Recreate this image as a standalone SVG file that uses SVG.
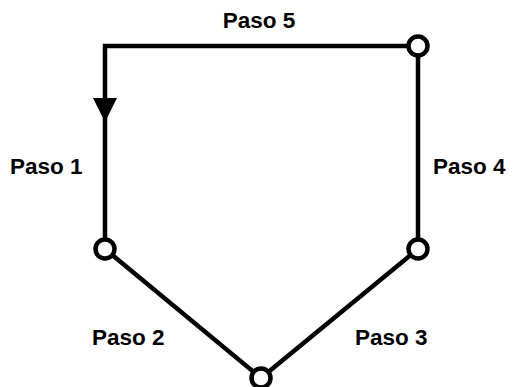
<svg xmlns="http://www.w3.org/2000/svg" width="515" height="387" viewBox="0 0 515 387">
<style>
.edge{fill:none;stroke:#000;stroke-width:4.5;stroke-linejoin:miter;stroke-linecap:butt}
.node{fill:#fff;stroke:#000;stroke-width:4.5}
.lbl{font-family:"Liberation Sans",Arial,sans-serif;font-weight:bold;font-size:22.5px;fill:#000}
</style>
<rect width="515" height="387" fill="#fff"/>
<g id="connectors">
<polyline class="edge" points="418,46 105,46 105,249"/>
<polygon points="93,98 117,98 105,122" fill="#000"/>
<line class="edge" x1="418" y1="46" x2="418" y2="249"/>
<line class="edge" x1="105" y1="249" x2="261" y2="378"/>
<line class="edge" x1="418" y1="249" x2="261" y2="378"/>
</g>
<g id="n1"><circle class="node" cx="418" cy="46" r="9.5"/></g>
<g id="n2"><circle class="node" cx="105" cy="249" r="9.5"/></g>
<g id="n3"><circle class="node" cx="418" cy="249" r="9.5"/></g>
<g id="n4"><circle class="node" cx="261" cy="378" r="9.5"/></g>
<g id="labels">
<text class="lbl" x="259" y="28" text-anchor="middle">Paso 5</text>
<text class="lbl" x="10" y="174">Paso 1</text>
<text class="lbl" x="433" y="174">Paso 4</text>
<text class="lbl" x="92" y="345">Paso 2</text>
<text class="lbl" x="355" y="345">Paso 3</text>
</g>
</svg>
